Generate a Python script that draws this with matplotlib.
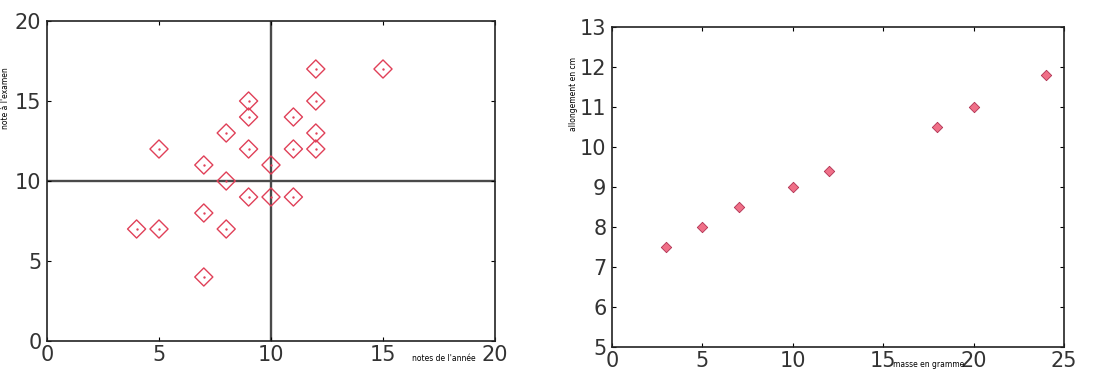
import matplotlib.pyplot as plt

# left chart: notes
notes_annee = [4, 5, 5, 7, 7, 7, 8, 8, 8, 9, 9, 9, 9, 10, 10, 11, 11, 11, 12, 12, 12, 12, 15]
notes_examen = [7, 7, 12, 4, 8, 11, 7, 10, 13, 9, 12, 14, 15, 9, 11, 9, 12, 14, 12, 13, 15, 17, 17]

# right chart: spring
masse = [3, 5, 7, 10, 12, 18, 20, 24]
allongement = [7.5, 8, 8.5, 9, 9.4, 10.5, 11, 11.8]

plt.rcParams['font.family'] = 'DejaVu Sans'

fig = plt.figure(figsize=(11.11, 3.71), dpi=100)
ax1 = fig.add_axes([47 / 1111, 1 - 341 / 371, 448 / 1111, 320 / 371])
ax2 = fig.add_axes([612 / 1111, 1 - 347 / 371, 452 / 1111, 320 / 371])

red = '#e04058'

# left
ax1.axvline(10, color='#4a4a4a', lw=1.7, zorder=1)
ax1.axhline(10, color='#4a4a4a', lw=1.7, zorder=1)
ax1.scatter(notes_annee, notes_examen, marker='D', s=85, facecolors='none',
            edgecolors=red, linewidths=1.0, zorder=3)
ax1.scatter(notes_annee, notes_examen, marker='.', s=2, color=red, zorder=4)
ax1.set_xlim(0, 20)
ax1.set_ylim(0, 20)
ax1.set_xticks([0, 5, 10, 15, 20])
ax1.set_yticks([0, 5, 10, 15, 20])
ax1.set_xlabel("notes de l'année", fontsize=5.5)
ax1.xaxis.set_label_coords(0.885, -0.04)
ax1.set_ylabel("note à l'examen", fontsize=5.5)
ax1.yaxis.set_label_coords(-0.082, 0.76)

# right
ax2.scatter(masse, allongement, marker='D', s=28, color='#f07088',
            edgecolors='#b03050', linewidths=0.6, zorder=3)
ax2.set_xlim(0, 25)
ax2.set_ylim(5, 13)
ax2.set_xticks([0, 5, 10, 15, 20, 25])
ax2.set_yticks([5, 6, 7, 8, 9, 10, 11, 12, 13])
ax2.set_xlabel("masse en gramme", fontsize=5.5)
ax2.xaxis.set_label_coords(0.70, -0.04)
ax2.set_ylabel("allongement en cm", fontsize=5.5)
ax2.yaxis.set_label_coords(-0.075, 0.79)

for ax in (ax1, ax2):
    ax.tick_params(direction='in', length=3, width=0.8, top=True, right=True,
                   labelsize=15, labelcolor='#333333')
    ax.tick_params(axis='x', pad=3)
    ax.tick_params(axis='y', pad=4)
    for sp in ax.spines.values():
        sp.set_linewidth(1.2)
        sp.set_color('#222222')

plt.savefig("out.png", dpi=100)
